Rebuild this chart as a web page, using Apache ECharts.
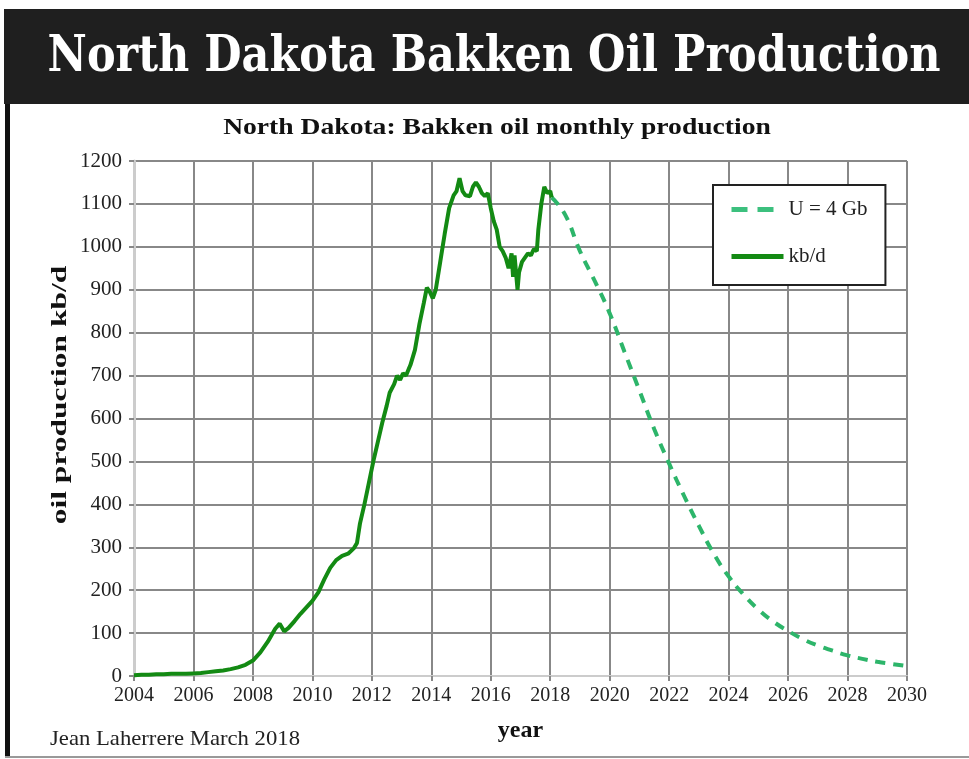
<!DOCTYPE html>
<html><head><meta charset="utf-8">
<script src="https://cdn.jsdelivr.net/npm/echarts@6/dist/echarts.min.js"></script>
<style>html,body{margin:0;padding:0;background:#fff;}#c{width:969px;height:759px;}</style>
</head><body><div id="c"></div>
<script>
// Historic monthly production (kb/d)
const histYears = [2004.0,2004.25,2004.5,2004.75,2005.0,2005.25,2005.5,2005.75,2006.0,2006.25,2006.5,2006.75,2007.0,2007.25,2007.5,2007.75,2008.0,2008.25,2008.5,2008.75,2008.9,2009.05,2009.2,2009.4,2009.6,2009.8,2010.0,2010.2,2010.4,2010.6,2010.8,2011.0,2011.2,2011.4,2011.5,2011.6,2011.75,2011.9,2012.05,2012.2,2012.35,2012.5,2012.6,2012.75,2012.85,2012.95,2013.05,2013.15,2013.3,2013.45,2013.6,2013.75,2013.85,2013.95,2014.05,2014.15,2014.3,2014.45,2014.6,2014.75,2014.85,2014.95,2015.05,2015.15,2015.3,2015.4,2015.5,2015.6,2015.7,2015.8,2015.9,2016.0,2016.1,2016.2,2016.3,2016.4,2016.5,2016.6,2016.7,2016.75,2016.8,2016.85,2016.9,2016.95,2017.05,2017.15,2017.25,2017.35,2017.45,2017.55,2017.6,2017.7,2017.8,2017.9,2018.0,2018.05];
const histValues = [2,3,3,4,4,5,5,5,6,7,9,11,13,16,20,26,36,55,80,110,122,104,112,128,145,160,175,195,225,252,270,280,285,298,310,355,400,450,500,545,590,630,660,680,700,690,705,700,725,760,820,870,905,895,880,900,965,1030,1090,1120,1130,1160,1130,1120,1118,1140,1150,1140,1125,1118,1125,1090,1060,1040,1000,990,975,950,985,930,980,940,900,940,965,975,985,980,995,990,1040,1100,1140,1125,1130,1115];
// Forecast U = 4 Gb
const fcYears = [2018.05,2018.5,2019,2019.5,2020,2020.5,2021,2021.5,2022,2022.5,2023,2023.5,2024,2024.5,2025,2025.5,2026,2026.5,2027,2027.5,2028,2028.5,2029,2029.5,2030];
const fcValues = [1115,1075,990,920,845,755,665,575,495,420,350,285,232,190,155,127,105,86,71,59,48,40,33,28,23];
const yTicks = [0,100,200,300,400,500,600,700,800,900,1000,1100,1200];
const xTicks = [2004,2006,2008,2010,2012,2014,2016,2018,2020,2022,2024,2026,2028,2030];

const serif = '"Liberation Serif","Times New Roman",serif';
const chart = echarts.init(document.getElementById('c'));
chart.setOption({
  backgroundColor: '#fff',
  animation: false,
  graphic: [
    {type:'rect', shape:{x:4,y:9,width:965,height:95}, style:{fill:'#1f1f1f'}, z:-1},
    {type:'rect', shape:{x:5,y:104,width:5,height:653}, style:{fill:'#111'}},
    {type:'rect', shape:{x:5,y:756,width:964,height:2}, style:{fill:'#999'}},
    {type:'text', x:494, y:58, scaleX:0.86, style:{text:'North Dakota Bakken Oil Production', font:'bold 50px "DejaVu Serif"', fill:'#fff', align:'center', verticalAlign:'middle'}},
    {type:'text', x:497, y:128, scaleX:1.15, style:{text:'North Dakota: Bakken oil monthly production', font:'bold 24px '+serif, fill:'#111', align:'center', verticalAlign:'middle'}},
    {type:'text', x:61, y:395, rotation:Math.PI/2, scaleX:1.5, style:{text:'oil production kb/d', font:'bold 21px '+serif, fill:'#111', align:'center', verticalAlign:'middle'}},
    {type:'text', x:50, y:739, scaleX:1.08, style:{text:'Jean Laherrere March 2018', font:'21px '+serif, fill:'#222', align:'left', verticalAlign:'middle'}}
  ],
  grid: {left:134, right:62, top:161, bottom:83, containLabel:false},
  legend: {
    left: 713, top: 185, orient: 'vertical',
    backgroundColor:'#fff', borderColor:'#222', borderWidth:2,
    padding:[14,18,18,16], itemGap:26, itemWidth:52, itemHeight:14,
    itemStyle:{opacity:0},
    lineStyle:{width:5},
    textStyle:{fontFamily:serif, fontSize:21, color:'#222'},
    data:[{name:'U = 4 Gb', lineStyle:{type:[16,10], width:5, color:'#3cc07e'}}, {name:'kb/d', lineStyle:{width:5}}]
  },
  xAxis: {
    type:'value', min:2004, max:2030, interval:2,
    name:'year', nameLocation:'middle', nameGap:43,
    nameTextStyle:{fontFamily:serif, fontSize:24, fontWeight:'bold', color:'#111'},
    axisLine:{show:true, lineStyle:{color:'#ccc', width:2}},
    axisTick:{show:true, length:5, lineStyle:{color:'#888', width:2}},
    axisLabel:{fontFamily:serif, fontSize:20, color:'#222', margin:10, formatter: v => String(v)},
    splitLine:{show:true, lineStyle:{color:'#888', width:2}}
  },
  yAxis: {
    type:'value', min:0, max:1200, interval:100,
    axisLine:{show:true, lineStyle:{color:'#ccc', width:3}},
    axisTick:{show:true, length:5, lineStyle:{color:'#888', width:2}},
    axisLabel:{fontFamily:serif, fontSize:21, color:'#222', margin:12, formatter: v => String(v)},
    splitLine:{show:true, lineStyle:{color:'#888', width:2}}
  },
  series: [
    {name:'U = 4 Gb', type:'line', showSymbol:false, symbol:'none', smooth:true, z:3,
     data: fcYears.map((y,i)=>[y, fcValues[i]]),
     lineStyle:{color:'#2db56a', width:4, type:[10,8]}, itemStyle:{color:'#2db56a'}},
    {name:'kb/d', type:'line', showSymbol:false, symbol:'none', z:4,
     data: histYears.map((y,i)=>[y, histValues[i]]),
     lineStyle:{color:'#138a13', width:4}, itemStyle:{color:'#138a13'}}
  ]
});
</script></body></html>
